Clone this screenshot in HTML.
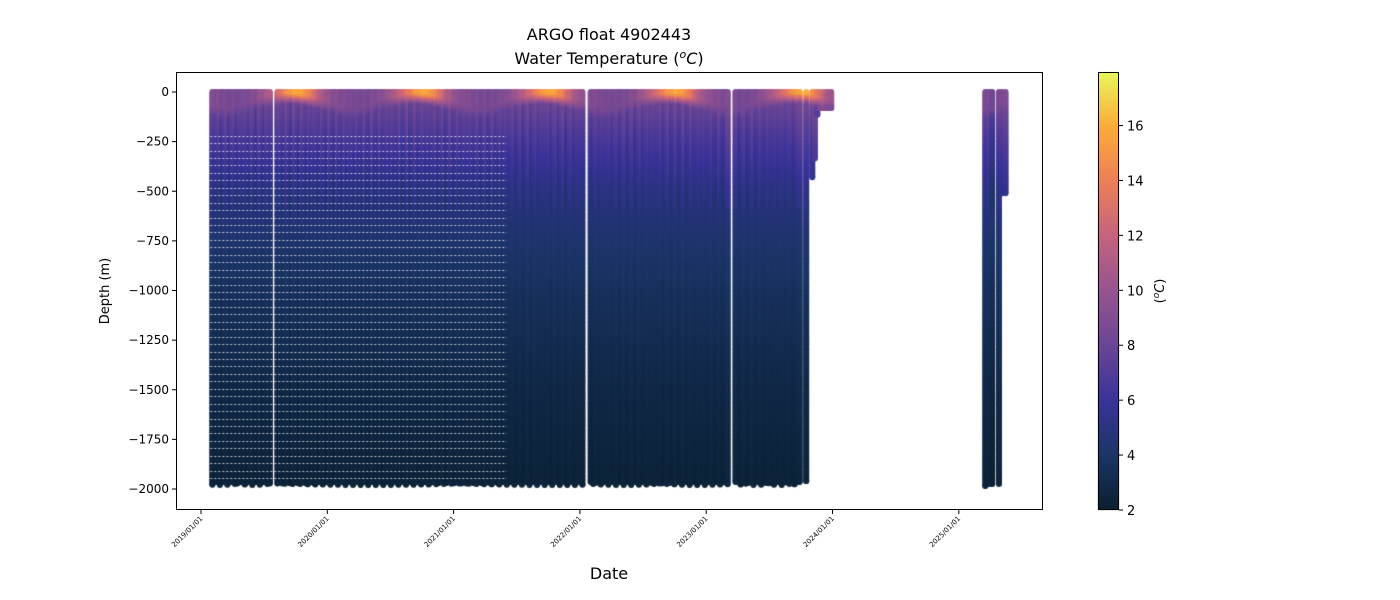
<!DOCTYPE html>
<html><head><meta charset="utf-8">
<style>
html,body{margin:0;padding:0;background:#fff;}
#wrap{position:relative;width:1400px;height:600px;font-family:"DejaVu Sans","Liberation Sans",sans-serif;}
canvas{position:absolute;left:0;top:0;}
svg{position:absolute;left:0;top:0;}
</style></head>
<body>
<div id="wrap">
<canvas id="cv" width="1400" height="600"></canvas>
<svg id="sv" width="1400" height="600"></svg>
</div>
<script>
// ---- data ----
const segStart = [2019.09, 2019.605, 2022.085, 2023.232, 2023.792, 2023.84, 2023.86, 2023.88, 2023.90, 2025.21, 2025.318, 2025.342];
const segEnd   = [2019.545, 2022.02, 2023.17, 2023.74, 2023.792, 2023.84, 2023.86, 2023.88, 2023.99, 2025.265, 2025.318, 2025.37];
const segMaxDepth = [1965, 1965, 1965, 1965, 1960, 430, 335, 115, 80, 1975, 1975, 510];
const monthSurfaceTemp = [9.5, 9.0, 8.7, 8.6, 8.8, 9.5, 11.0, 13.0, 15.2, 16.0, 14.0, 11.0];
const monthMixedLayer = [60, 80, 90, 80, 60, 40, 30, 20, 15, 18, 30, 45];
const refDepths = [0, 100, 250, 500, 750, 1000, 1500, 2000];
const refTemps = [8.6, 7.8, 6.6, 5.1, 4.3, 3.7, 2.9, 2.4];
const sparseUntil = 2021.42, sparseBelow = 220;
const xTickYears = [2019, 2020, 2021, 2022, 2023, 2024, 2025];
const xTickLabels = ["2019/01/01","2020/01/01","2021/01/01","2022/01/01","2023/01/01","2024/01/01","2025/01/01"];
const yTicks = [0, -250, -500, -750, -1000, -1250, -1500, -1750, -2000];
const cbTicks = [2, 4, 6, 8, 10, 12, 14, 16];
const cmapStops = [[0,"#0a1f2e"],[0.125,"#1b3566"],[0.25,"#3a3399"],[0.375,"#6a4596"],[0.5,"#96548f"],[0.625,"#c4637f"],[0.75,"#ec7f58"],[0.875,"#fbab3a"],[1,"#e8f75a"]];
const vmin = 2, vmax = 17.95;

// ---- scales ----
const PL=176, PR=1043, PT=72, PB=510;
const xPx = yr => 201 + (yr - 2019) * 126.3;
const yPx = d => 92 - d * 0.1985;
function hex(h){return [parseInt(h.substr(1,2),16),parseInt(h.substr(3,2),16),parseInt(h.substr(5,2),16)];}
function cmap(t){
  let f=(t-vmin)/(vmax-vmin); f=Math.max(0,Math.min(1,f));
  for(let i=1;i<cmapStops.length;i++){
    if(f<=cmapStops[i][0]){
      const a=cmapStops[i-1],b=cmapStops[i];const u=(f-a[0])/(b[0]-a[0]);
      const ca=hex(a[1]),cb=hex(b[1]);
      return `rgb(${Math.round(ca[0]+(cb[0]-ca[0])*u)},${Math.round(ca[1]+(cb[1]-ca[1])*u)},${Math.round(ca[2]+(cb[2]-ca[2])*u)})`;
    }
  }
  return cmapStops[cmapStops.length-1][1];
}
function interpMonth(arr, yr){
  const m=((yr%1)*12-0.5+12)%12; const i=Math.floor(m), u=m-i;
  return arr[i]*(1-u)+arr[(i+1)%12]*u;
}
function refT(z){
  for(let i=1;i<refDepths.length;i++){if(z<=refDepths[i]){const u=(z-refDepths[i-1])/(refDepths[i]-refDepths[i-1]);return refTemps[i-1]*(1-u)+refTemps[i]*u;}}
  return refTemps[refTemps.length-1];
}
function temp(yr,z){
  const S=interpMonth(monthSurfaceTemp,yr), M=interpMonth(monthMixedLayer,yr);
  const wob=0.45*Math.sin(yr*517.3)+0.3*Math.sin(yr*91.7);
  if(z<=M) return S+wob*0.5;
  const r=refT(z)+wob*(z<600?1:0.3);
  if(z<M+50){const u=(z-M)/50;return S*(1-u)+r*u;}
  return r;
}

// ---- draw scatter ----
const ctx=document.getElementById('cv').getContext('2d');
ctx.save();ctx.beginPath();ctx.rect(PL,PT,PR-PL,PB-PT);ctx.clip();
for(let s=0;s<segStart.length;s++){
  const n=Math.max(1,Math.round((segEnd[s]-segStart[s])/0.02)+1);
  for(let k=0;k<n;k++){
    const yr = n===1?segStart[s]:segStart[s]+(segEnd[s]-segStart[s])*k/(n-1);
    const maxD = segMaxDepth[s] + (segMaxDepth[s]>1900 ? 15*Math.max(0,Math.sin(yr*733.1)) : 0);
    const x=xPx(yr);
    for(let z=0;z<=maxD;z+=8){
      ctx.fillStyle=cmap(temp(yr,z));
      ctx.beginPath();ctx.arc(x,yPx(-z),3,0,Math.PI*2);ctx.fill();
    }
    ctx.fillStyle=cmap(temp(yr,maxD));
    ctx.beginPath();ctx.arc(x,yPx(-maxD),3,0,Math.PI*2);ctx.fill();
  }
}
ctx.strokeStyle="rgba(255,255,255,0.75)";ctx.lineWidth=1;ctx.setLineDash([2,2]);
for(let z=sparseBelow;z<1960;z+=37.5){
  const y=Math.round(yPx(-z))+0.5;
  ctx.beginPath();ctx.moveTo(xPx(segStart[0])-2,y);ctx.lineTo(xPx(sparseUntil),y);ctx.stroke();
}
ctx.setLineDash([]);
ctx.restore();

// colorbar gradient
const CBX=1098,CBW=21,CBT=72,CBB=510;
for(let y=CBT;y<CBB;y++){
  const v=vmin+(CBB-y)/(CBB-CBT)*(vmax-vmin);
  ctx.fillStyle=cmap(v);ctx.fillRect(CBX,y,CBW,1);
}

// ---- SVG axes ----
const svg=document.getElementById('sv');const NS="http://www.w3.org/2000/svg";
function el(tag,attrs,txt){const e=document.createElementNS(NS,tag);for(const k in attrs)e.setAttribute(k,attrs[k]);if(txt!==undefined)e.textContent=txt;svg.appendChild(e);return e;}
let e;
e=el('rect',{x:PL+0.5,y:PT+0.5,width:PR-PL-1,height:PB-PT-1,fill:'none',stroke:'#000','stroke-width':1});

xTickYears.forEach((yr,i)=>{
  const x=xPx(yr);
  let t=el('line',{x1:x,y1:PB,x2:x,y2:PB+4,stroke:'#000'});
  
  let l=el('text',{x:x+2,y:PB+9,'font-size':7,'text-anchor':'end',transform:`rotate(-45 ${x+2} ${PB+9})`,fill:'#000'},xTickLabels[i]);
  
});
yTicks.forEach(v=>{
  const y=yPx(v);
  let t=el('line',{x1:PL-4,y1:y,x2:PL,y2:y,stroke:'#000'});
  
  let l=el('text',{x:PL-7,y:y+4,'font-size':12,'text-anchor':'end',fill:'#000'},v===0?'0':'\u2212'+Math.abs(v));
  
});
e=el('text',{x:109,y:291,'font-size':13,'text-anchor':'middle',transform:'rotate(-90 109 291)'},'Depth (m)');

e=el('text',{x:609,y:579,'font-size':16,'text-anchor':'middle'},'Date');

e=el('text',{x:609,y:40,'font-size':16,'text-anchor':'middle'},'ARGO float 4902443');

e=el('text',{x:609,y:64,'font-size':16,'text-anchor':'middle'});

e.innerHTML='Water Temperature (<tspan font-style="italic" font-size="11" dy="-6">o</tspan><tspan font-style="italic" dy="6">C</tspan>)';
e=el('rect',{x:CBX+0.5,y:CBT+0.5,width:CBW-1,height:CBB-CBT-1,fill:'none',stroke:'#000'});

cbTicks.forEach(v=>{
  const y=CBB-(v-vmin)/(vmax-vmin)*(CBB-CBT);
  let t=el('line',{x1:CBX+CBW,y1:y,x2:CBX+CBW+4,y2:y,stroke:'#000'});
  
  let l=el('text',{x:CBX+CBW+8,y:y+5,'font-size':13},String(v));
  
});
e=el('text',{x:1164,y:291,'font-size':13,'text-anchor':'middle',transform:'rotate(-90 1164 291)'});

e.innerHTML='(<tspan font-style="italic" font-size="9" dy="-5">o</tspan><tspan font-style="italic" dy="5">C</tspan>)';
</script>
</body></html>
